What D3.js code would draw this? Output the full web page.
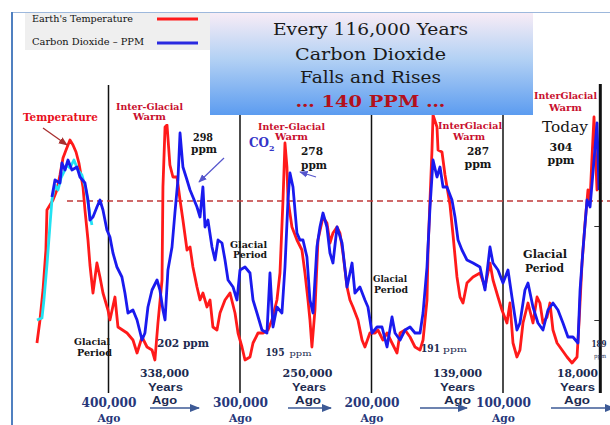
<!DOCTYPE html>
<html><head><meta charset="utf-8">
<script src="https://cdn.jsdelivr.net/npm/d3@7"></script>
<style>body{margin:0;background:#fff}svg{display:block}</style>
</head><body><svg id="c" width="610" height="425"></svg>
<script>
// ---- DATA (thousand years ago, value) ----
const temperature = [[454.4,-5.68],[452.1,-4.76],[449.8,-3.56],[447.6,-1.96],[446.8,-0.36],[444.5,-0.16],[442.2,0.04],[439.2,0.44],[436.9,1.04],[434.6,1.72],[432.3,2.04],[429.3,2.44],[427.0,2.24],[424.7,1.96],[422.5,1.52],[419.4,0.56],[417.9,-0.36],[415.6,-1.56],[414.1,-2.56],[411.8,-3.68],[408.8,-2.48],[406.5,-3.04],[404.2,-3.68],[400.4,-4.36],[398.9,-4.76],[395.1,-3.84],[392.8,-5.04],[385.9,-5.28],[381.4,-5.56],[378.3,-6.08],[374.5,-5.44],[370.7,-5.84],[366.9,-5.96],[364.7,-6.36],[362.4,-4.88],[359.3,-3.16],[358.6,0.56],[357.0,2.96],[355.5,3.04],[353.3,1.44],[351.0,0.96],[347.9,0.96],[345.6,0.04],[343.4,-0.76],[340.3,-1.96],[338.0,-1.84],[335.8,-2.64],[332.7,-3.44],[330.4,-3.96],[328.2,-3.68],[325.1,-4.24],[322.8,-3.96],[320.6,-5.04],[317.5,-5.16],[315.2,-4.48],[311.4,-3.96],[307.6,-3.68],[303.8,-4.48],[301.5,-5.28],[298.5,-5.84],[296.2,-6.36],[292.4,-6.24],[290.1,-5.68],[286.3,-5.28],[282.5,-5.28],[278.7,-5.16],[275.7,-4.76],[271.9,-3.96],[269.6,-2.88],[267.3,0.04],[265.8,2.32],[264.3,1.36],[263.5,0.04],[260.5,-1.04],[256.7,-1.56],[252.9,-1.96],[250.6,-2.88],[248.3,-3.96],[246.8,-4.76],[245.3,-5.84],[243.0,-4.36],[240.7,-1.56],[236.9,-0.64],[233.9,-0.88],[231.6,-1.68],[229.3,-1.28],[226.2,-1.04],[224.0,-1.28],[221.7,-2.08],[218.6,-3.44],[216.4,-3.96],[214.1,-4.24],[210.3,-4.76],[207.2,-5.56],[205.0,-5.84],[201.2,-5.28],[197.3,-5.28],[195.1,-5.16],[191.3,-5.56],[188.2,-5.28],[184.4,-5.68],[180.6,-6.08],[178.3,-5.28],[174.5,-5.16],[170.7,-5.44],[166.9,-5.84],[163.1,-5.96],[160.8,-5.56],[157.8,-3.96],[157.0,-1.96],[155.5,0.04],[154.0,2.04],[153.2,3.44],[150.2,2.96],[149.4,2.04],[146.4,1.96],[144.1,1.04],[140.3,-0.16],[138.0,-1.36],[135.0,-3.04],[132.7,-3.84],[130.4,-4.08],[127.4,-3.28],[122.8,-3.04],[117.5,-2.88],[113.7,-3.44],[109.9,-2.48],[107.6,-3.16],[103.8,-3.84],[100.8,-4.36],[97.0,-4.88],[94.7,-4.08],[92.4,-5.68],[89.4,-6.24],[87.1,-5.96],[84.8,-4.88],[81.0,-4.08],[77.2,-4.88],[74.1,-3.84],[71.9,-4.08],[69.6,-4.88],[66.5,-4.64],[64.3,-4.08],[62.0,-5.16],[58.9,-5.68],[55.1,-5.96],[51.3,-6.24],[47.5,-6.48],[43.7,-6.24],[42.2,-4.88],[39.9,-2.48],[37.6,-0.88],[35.4,0.44],[33.8,0.04],[32.3,1.76],[30.8,3.36],[28.5,0.44],[26.2,0.72]];

const co2 = [[443.0,261.5],[440.7,270],[436.9,268.5],[435.4,278.5],[433.1,275],[430.8,280],[427.8,275],[424.0,276.5],[421.7,271.5],[417.9,268.5],[415.6,260],[414.1,250],[411.8,251.5],[408.8,256.5],[406.5,260],[404.2,255],[401.2,245],[398.9,241.5],[396.6,233.5],[393.6,226.5],[389.8,221.5],[387.5,213.5],[385.2,203.5],[381.4,205],[378.3,200],[374.5,190],[372.3,193.5],[370.0,206.5],[366.9,215],[363.1,220],[360.9,215],[358.6,205],[357.0,200],[354.8,225],[351.7,236.5],[349.5,253.5],[347.2,270],[345.6,293.5],[343.4,276.5],[340.3,270],[338.0,265],[335.8,261.5],[332.7,256.5],[330.4,251.5],[328.2,266.5],[326.6,246.5],[324.4,250],[321.3,236.5],[319.0,230],[316.7,240],[313.7,238.5],[311.4,230],[309.1,220],[305.3,216.5],[302.3,210],[300.0,225],[296.2,226.5],[292.4,223.5],[290.1,210],[287.1,203.5],[283.3,195],[279.5,193.5],[277.2,223.5],[274.9,196.5],[271.9,206.5],[268.1,203.5],[265.8,226.5],[263.5,260],[262.0,273.5],[259.7,266.5],[256.7,243.5],[254.4,240],[252.1,240],[249.1,231.5],[246.8,210],[244.5,203.5],[241.5,236.5],[239.2,246.5],[236.9,253.5],[233.9,246.5],[231.6,233.5],[229.3,228.5],[226.2,246.5],[222.4,238.5],[218.6,216.5],[214.8,228.5],[212.6,213.5],[208.8,216.5],[205.0,210],[202.7,206.5],[199.6,193.5],[195.8,196.5],[192.0,196.5],[188.2,186.5],[184.4,201.5],[182.1,193.5],[178.3,190],[174.5,195],[170.7,196.5],[166.9,193.5],[163.1,193.5],[160.8,203.5],[157.8,226.5],[155.5,256.5],[153.2,280],[150.2,271.5],[147.9,276.5],[145.6,266.5],[142.6,266.5],[138.8,260],[136.5,251.5],[134.2,240],[131.2,235],[127.4,230],[122.8,228.5],[117.5,226.5],[113.7,215],[109.9,236.5],[107.6,228.5],[103.8,225],[100.0,218.5],[96.2,225],[93.2,211.5],[89.4,195],[87.1,198.5],[83.3,215],[81.0,218.5],[77.2,206.5],[73.4,198.5],[69.6,195],[65.8,205],[62.0,208.5],[58.2,205],[54.4,198.5],[50.6,191.5],[46.8,191.5],[43.0,188.5],[41.4,215],[39.2,235],[36.1,260],[33.8,256.5],[31.6,273.5],[28.5,298.5],[27.0,265]];

const co2Early = [[454.4,200],[450.6,201],[449.1,210],[446.8,227.5],[444.5,247.5],[443.0,260],[440.7,267.5],[438.4,265],[436.1,271],[433.9,274],[431.6,277.5],[429.3,276],[426.3,280],[423.2,275],[420.2,272.5],[417.1,265],[414.1,252.5],[412.6,247.5]];

const eraTicks = [400, 300, 200, 100];
const seriesNames = ["Earth's Temperature", "Carbon Dioxide \u2013 PPM"];
const titleLines = ["Every 116,000 Years", "Carbon Dioxide", "Falls and Rises", "\u2026 140 PPM \u2026"];

// ---- SCALES ----
const svg = d3.select("#c");
const x = d3.scaleLinear().domain([400, 0]).range([108.5, 634.5]);
const yT = d3.scaleLinear().domain([0, -5]).range([201, 326]);
const yC = d3.scaleLinear().domain([165, 315]).range([390, 90]);
const SERIF = "DejaVu Serif";
const RED = "#ff1a1a", BLUE = "#1a1aee", CYAN = "#22e2f2";

// markers
const defs = svg.append("defs");
function marker(id, color) {
  defs.append("marker").attr("id", id).attr("viewBox", "0 0 10 10").attr("refX", 9).attr("refY", 5)
    .attr("markerWidth", 7).attr("markerHeight", 7).attr("orient", "auto-start-reverse")
    .append("path").attr("d", "M0,1 L10,5 L0,9 Z").attr("fill", color);
}
marker("mRed", "#a83030"); marker("mBlue", "#5555cc"); marker("mNavy", "#3d5a96");
const grad = defs.append("linearGradient").attr("id", "tg").attr("x1", 0).attr("y1", 0).attr("x2", 0).attr("y2", 1);
grad.append("stop").attr("offset", "0%").attr("stop-color", "#f8ecf6");
grad.append("stop").attr("offset", "45%").attr("stop-color", "#b3d1f4");
grad.append("stop").attr("offset", "100%").attr("stop-color", "#5c9cf0");

// frame
svg.append("line").attr("x1", 12).attr("x2", 610).attr("y1", 12.5).attr("y2", 12.5).attr("stroke", "#9db8dc").attr("stroke-width", 1);
svg.append("line").attr("x1", 12).attr("x2", 12).attr("y1", 12).attr("y2", 425).attr("stroke", "#5080c0").attr("stroke-width", 2);

// legend
svg.append("rect").attr("x", 25).attr("y", 13).attr("width", 185).attr("height", 37).attr("fill", "#efefef");
const lg = svg.append("g").selectAll("g").data(seriesNames).join("g");
lg.append("text").attr("x", 32).attr("y", (d, i) => 22 + i * 23).text(d => d)
  .attr("font-family", SERIF).attr("font-size", 9.5).attr("fill", "#111")
  .attr("textLength", (d, i) => i ? 112 : 101).attr("lengthAdjust", "spacingAndGlyphs");
lg.append("line").attr("x1", 157).attr("x2", 198).attr("y1", (d, i) => 19 + i * 24).attr("y2", (d, i) => 19 + i * 24)
  .attr("stroke", (d, i) => i ? "#2a2ae0" : RED).attr("stroke-width", 3);

// era vertical lines
svg.append("g").selectAll("line").data(eraTicks).join("line")
  .attr("x1", d => x(d)).attr("x2", d => x(d)).attr("y1", 85).attr("y2", 393)
  .attr("stroke", "#111").attr("stroke-width", 1.5);

// dashed reference
svg.append("line").attr("x1", 67).attr("x2", 610).attr("y1", yT(0)).attr("y2", yT(0))
  .attr("stroke", "#c03838").attr("stroke-width", 1.3).attr("stroke-dasharray", "6,4");

// curves
const lineT = d3.line().x(d => x(d[0])).y(d => yT(d[1]));
const lineC = d3.line().x(d => x(d[0])).y(d => yC(d[1]));
svg.append("path").datum(temperature).attr("d", lineT).attr("fill", "none").attr("stroke", RED).attr("stroke-width", 2.8).attr("stroke-linejoin", "round");
svg.append("path").datum(co2Early).attr("d", lineC).attr("fill", "none").attr("stroke", CYAN).attr("stroke-width", 2.8).attr("stroke-linejoin", "round");
svg.append("path").datum(co2).attr("d", lineC).attr("fill", "none").attr("stroke", BLUE).attr("stroke-width", 2.8).attr("stroke-linejoin", "round");

// right axis
const ra = svg.append("g").attr("transform", `translate(${x(26)},0)`)
  .call(d3.axisLeft(yC).tickValues([247, 200]).tickSize(6).tickFormat(""));
ra.select(".domain").remove();
ra.selectAll(".tick line").attr("stroke", "#333");
svg.append("line").attr("x1", x(26)).attr("x2", x(26)).attr("y1", 84).attr("y2", 393).attr("stroke", "#111").attr("stroke-width", 3);

// title box
svg.append("rect").attr("x", 210).attr("y", 13).attr("width", 323).attr("height", 102).attr("fill", "url(#tg)");
svg.append("g").selectAll("text").data(titleLines).join("text")
  .attr("x", 370.5).attr("y", (d, i) => [35, 60, 83, 107][i]).attr("text-anchor", "middle")
  .attr("font-family", SERIF).attr("font-size", 17)
  .attr("font-weight", (d, i) => i === 3 ? "bold" : "normal")
  .attr("fill", (d, i) => i === 3 ? "#b3101c" : "#1a1a1a")
  .attr("textLength", (d, i) => [195, 151, 141, 150][i]).attr("lengthAdjust", "spacingAndGlyphs")
  .text(d => d);

// white patch behind first label
svg.append("rect").attr("x", 113).attr("y", 101).attr("width", 73).attr("height", 23).attr("fill", "#fff");

// labels: [text, cx, baseline, width, size, color, weight, family]
const RD = "#c8102e", BK = "#151515", NV = "#1c2a50", SANS = "Liberation Sans";
const labels = [
  ["Temperature", 60.5, 121, 75, 11.5, "#e8101c", "bold", SERIF],
  ["Inter-Glacial", 149.5, 110, 67, 8.5, RD, "bold", SERIF], ["Warm", 149.5, 120, 33, 8.5, RD, "bold", SERIF],
  ["Inter-Glacial", 291.5, 130, 67, 8.5, RD, "bold", SERIF], ["Warm", 291.5, 140, 33, 8.5, RD, "bold", SERIF],
  ["InterGlacial", 470, 129, 64, 8.5, RD, "bold", SERIF], ["Warm", 469, 140, 32, 8.5, RD, "bold", SERIF],
  ["InterGlacial", 565.5, 99, 63, 8.5, RD, "bold", SERIF], ["Warm", 565.5, 111, 33, 8.5, RD, "bold", SERIF],
  ["298", 203, 141, 20, 10.5, BK, "bold", SERIF], ["ppm", 204, 153, 26, 10.5, BK, "bold", SERIF],
  ["278", 312, 155, 22, 10.5, BK, "bold", SERIF], ["ppm", 314, 169, 26, 10.5, BK, "bold", SERIF],
  ["287", 478, 155, 22, 10.5, BK, "bold", SERIF], ["ppm", 478, 168, 27, 10.5, BK, "bold", SERIF],
  ["304", 561, 151, 23, 10.5, BK, "bold", SERIF], ["ppm", 561, 164, 27, 10.5, BK, "bold", SERIF],
  ["Today", 565, 132, 46, 14, BK, "normal", SERIF],
  ["Glacial", 92, 345, 36, 8.5, BK, "bold", SERIF], ["Period", 94.5, 356, 35, 8.5, BK, "bold", SERIF],
  ["Glacial", 248.5, 248, 37, 8.5, BK, "bold", SERIF], ["Period", 250, 258, 34, 8.5, BK, "bold", SERIF],
  ["Glacial", 390, 282, 34, 8.5, BK, "bold", SERIF], ["Period", 391, 293, 34, 8.5, BK, "bold", SERIF],
  ["Glacial", 545, 258, 44, 11, BK, "bold", SERIF], ["Period", 544.5, 272, 39, 11, BK, "bold", SERIF],
  ["202 ppm", 183, 347, 52, 11, NV, "bold", SERIF],
  ["195", 275, 356, 19, 11, NV, "bold", SERIF], ["ppm", 300.5, 356, 22, 8, NV, "normal", SERIF],
  ["191", 430.5, 352, 19, 11, NV, "bold", SERIF], ["ppm", 455, 352, 24, 8, NV, "normal", SERIF],
  ["338,000", 164.5, 377, 49, 11, NV, "bold", SERIF], ["Years", 165.5, 391, 35, 11, NV, "bold", SANS], ["Ago", 164.5, 403.5, 25, 11, NV, "bold", SANS],
  ["250,000", 307.5, 377, 50, 11, NV, "bold", SERIF], ["Years", 309, 391, 34, 11, NV, "bold", SANS], ["Ago", 308, 403.5, 26, 11, NV, "bold", SANS],
  ["139,000", 457.5, 377, 49, 11, NV, "bold", SERIF], ["Years", 457.5, 391, 35, 11, NV, "bold", SANS], ["Ago", 457.5, 403.5, 27, 11, NV, "bold", SANS],
  ["18,000", 577.5, 377, 41, 11, NV, "bold", SERIF], ["Years", 577.5, 391, 35, 11, NV, "bold", SANS], ["Ago", 577, 403.5, 26, 11, NV, "bold", SANS],
  ["189", 599, 347, 15, 9.5, NV, "bold", SERIF], ["ppm", 600, 358, 12, 6, NV, "normal", SERIF]
];
svg.append("g").selectAll("text").data(labels).join("text")
  .attr("x", d => d[1]).attr("y", d => d[2]).attr("text-anchor", "middle")
  .attr("textLength", d => d[3]).attr("lengthAdjust", "spacingAndGlyphs")
  .attr("font-size", d => d[4]).attr("fill", d => d[5]).attr("font-weight", d => d[6]).attr("font-family", d => d[7])
  .text(d => d[0]);

// CO2 label
const co = svg.append("text").attr("x", 249).attr("y", 147).attr("font-family", SERIF).attr("font-weight", "bold").attr("font-size", 12).attr("fill", "#3434c8");
co.append("tspan").text("CO");
co.append("tspan").attr("font-size", 8).attr("dy", 4).text("2");

// arrows
const arrows = [
  [43, 128, 67, 145, "#a83030", "mRed", 1.3],
  [224, 158, 199, 182, "#5555cc", "mBlue", 1.2],
  [316, 177, 300, 172, "#5555cc", "mBlue", 1.2],
  [150, 408, 199, 408, "#3d5a96", "mNavy", 1.5],
  [288, 408, 331, 408, "#3d5a96", "mNavy", 1.5],
  [420, 408, 467, 408, "#3d5a96", "mNavy", 1.5],
  [551, 408, 614, 408, "#3d5a96", "mNavy", 1.5]
];
svg.append("g").selectAll("line").data(arrows).join("line")
  .attr("x1", d => d[0]).attr("y1", d => d[1]).attr("x2", d => d[2]).attr("y2", d => d[3])
  .attr("stroke", d => d[4]).attr("stroke-width", d => d[6]).attr("marker-end", d => `url(#${d[5]})`);

// bottom era axis labels
const ax = svg.append("g").attr("transform", "translate(0,393)")
  .call(d3.axisBottom(x).tickValues(eraTicks).tickSize(0).tickFormat(d => d3.format(",")(d * 1000)));
ax.select(".domain").remove();
ax.selectAll(".tick text").attr("y", 14).attr("dy", 0)
  .attr("font-family", SERIF).attr("font-weight", "bold").attr("font-size", 12.5).attr("fill", "#27377a")
  .attr("textLength", 55).attr("lengthAdjust", "spacingAndGlyphs");
ax.selectAll(".tick").append("text").text("Ago").attr("y", 29).attr("text-anchor", "middle")
  .attr("font-family", SERIF).attr("font-weight", "bold").attr("font-size", 11.5).attr("fill", "#27377a")
  .attr("textLength", 23).attr("lengthAdjust", "spacingAndGlyphs");
</script></body></html>
